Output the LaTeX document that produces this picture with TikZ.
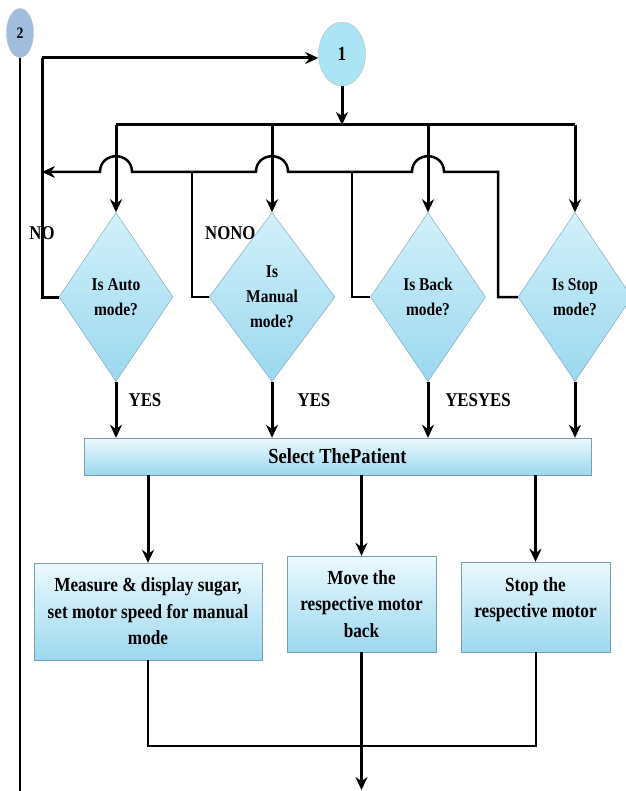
\documentclass[tikz,border=0pt]{standalone}
\usepackage{fontspec}
\setmainfont{Liberation Serif}[FakeStretch=0.86]
\usetikzlibrary{arrows.meta,calc,shapes.geometric}
\definecolor{edgeblue}{RGB}{120,160,175}
\definecolor{boxtop}{RGB}{236,249,253}
\definecolor{boxbot}{RGB}{155,216,238}
\definecolor{asktop}{RGB}{210,240,250}
\definecolor{askbot}{RGB}{155,216,238}
\definecolor{oneblue}{RGB}{170,228,245}
\definecolor{twoblue}{RGB}{162,190,222}

\begin{document}
\begin{tikzpicture}[x=1pt,y=-1pt,
    every node/.style={font=\bfseries},
    ask/.style={diamond,draw=edgeblue,top color=asktop,bottom color=askbot,
      inner sep=0pt,minimum height=169pt,align=center,
      font=\bfseries\fontsize{18}{25}\selectfont},
    task/.style={rectangle,draw=edgeblue,top color=boxtop,bottom color=boxbot,
      inner sep=0pt,align=center,font=\bfseries\fontsize{20}{26.5}\selectfont},
    tag/.style={inner sep=0pt,font=\bfseries\fontsize{19.5}{23}\selectfont},
    flow/.style={line width=3pt,-{Stealth[length=13pt,width=12pt]}},
    link/.style={line width=2pt}
  ]
  \useasboundingbox (0,0) rectangle (625,791);

  % answers, drawn first so the diamonds cover them
  \node[tag] (noA) at (42,233) {NO};
  \node[tag,anchor=west] (noM) at (205,233) {NONO};
  \node[tag] (yesA) at (145,400) {YES};
  \node[tag] (yesM) at (314,400) {YES};
  \node[tag] (yesB) at (478,400) {YESYES};

  % connectors 1 and 2
  \node[ellipse,draw=gray!50,fill=twoblue,minimum width=27pt,minimum height=49pt,
    inner sep=0pt,font=\bfseries\fontsize{16}{16}\selectfont] (c2) at (20,33) {2};
  \node[ellipse,draw=gray!50,fill=oneblue,minimum width=47pt,minimum height=64pt,
    inner sep=0pt,font=\bfseries\fontsize{20}{20}\selectfont] (c1) at (342,54) {1};

  % mode checks
  \node[ask,minimum width=114pt] (auto) at (116,297) {Is Auto\\mode?};
  \node[ask,minimum width=126pt] (manual) at (272,297) {Is\\Manual\\mode?};
  \node[ask,minimum width=115pt] (back) at (428,297) {Is Back\\mode?};
  \node[ask,minimum width=114pt] (stop) at (575,297) {Is Stop\\mode?};

  % actions
  \node[task,minimum width=507pt,minimum height=37pt,
    font=\bfseries\fontsize{21.5}{24}\selectfont] (select) at (337.5,456.5) {Select ThePatient};
  \node[task,minimum width=228pt,minimum height=97pt] (measure) at (148,611.5)
    {Measure \& display sugar,\\set motor speed for manual\\mode};
  \node[task,minimum width=149pt,minimum height=96pt] (move) at (361.5,604)
    {Move the\\respective motor\\back};
  \node[task,minimum width=149pt,minimum height=90pt,text depth=19pt] (halt) at (535.5,607)
    {Stop the\\respective motor};

  % junction points
  \coordinate (loop) at (42,58);
  \coordinate (ret) at (42,172);
  \coordinate (bus) at (0,125);
  \coordinate (noa) at (192,172);
  \coordinate (nom) at (352,172);
  \coordinate (nob) at (498,172);
  \coordinate (merge) at (0,746);
  \coordinate (exit) at (0,790);
  \coordinate (rail) at (0,791);

  % from 1 to the checks
  \draw[flow] (c1.south) -- (c1.south |- bus);
  \draw[line width=3pt] (auto.north |- bus) -- (stop.north |- bus);
  \draw[flow] (auto.north |- bus) -- (auto.north);
  \draw[flow] (manual.north |- bus) -- (manual.north);
  \draw[flow] (back.north |- bus) -- (back.north);
  \draw[flow] (stop.north |- bus) -- (stop.north);

  % NO branches back to 1
  \draw[line width=2.5pt,-{Stealth[length=13pt,width=12pt]}] (stop.west) -| (nob)
    -- ($(back.north |- ret)+(16,0)$) .. controls +(0,-21) and +(0,-21) .. ($(back.north |- ret)-(16,0)$)
    -- ($(manual.north |- ret)+(16,0)$) .. controls +(0,-21) and +(0,-21) .. ($(manual.north |- ret)-(16,0)$)
    -- ($(auto.north |- ret)+(16,0)$) .. controls +(0,-21) and +(0,-21) .. ($(auto.north |- ret)-(16,0)$)
    -- (ret);
  \draw[link] (back.west) -| (nom);
  \draw[link] (manual.west) -| (noa);
  \draw[line width=3pt] (auto.west) -| (loop);
  \draw[flow] (loop) -- (c1.west |- loop);

  % YES branches
  \draw[flow] (auto.south) -- (auto.south |- select.north);
  \draw[flow] (manual.south) -- (manual.south |- select.north);
  \draw[flow] (back.south) -- (back.south |- select.north);
  \draw[flow] (stop.south) -- (stop.south |- select.north);

  % actions and exit
  \draw[flow] (measure.north |- select.south) -- (measure.north);
  \draw[flow] (move.north |- select.south) -- (move.north);
  \draw[flow] (halt.north |- select.south) -- (halt.north);
  \draw[link] (measure.south) |- (merge -| halt.south) -- (halt.south);
  \draw[flow] (move.south) -- (move.south |- exit);
  \draw[link] (c2.south) -- (c2.south |- rail);
\end{tikzpicture}
\end{document}
